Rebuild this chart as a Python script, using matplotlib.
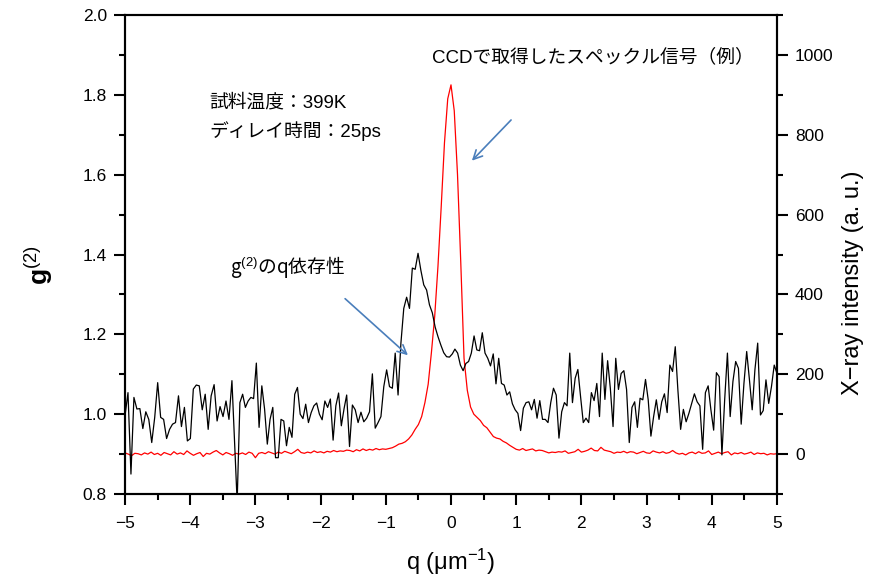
import numpy as np
import matplotlib
matplotlib.use("Agg")
import matplotlib.pyplot as plt
from matplotlib.ticker import MultipleLocator

plt.rcParams['font.family'] = ['Liberation Sans', 'Noto Sans CJK JP', 'DejaVu Sans']
plt.rcParams['mathtext.fontset'] = 'custom'
plt.rcParams['mathtext.rm'] = 'Liberation Sans'
plt.rcParams['mathtext.it'] = 'Liberation Sans'
plt.rcParams['mathtext.bf'] = 'Liberation Sans:bold'
plt.rcParams['axes.unicode_minus'] = True

# g2 (black), in six stretches of q
g2_q_ranges = [(-5.0, -3.36), (-3.28, -1.64), (-1.60, 0.02),
               (0.06, 1.74), (1.78, 3.44), (3.48, 5.0)]
g2_seg1 = [0.996, 1.054, 0.850, 1.042, 1.013, 1.014, 0.964, 1.006, 0.987, 0.929,
           0.992, 1.079, 0.992, 0.987, 0.939, 0.962, 0.975, 0.979, 1.046, 0.969,
           1.017, 0.933, 0.939, 1.063, 1.073, 1.071, 1.011, 1.050, 0.962, 1.046,
           1.074, 0.983, 1.019, 0.994, 1.033, 0.987, 1.084]
g2_seg2 = [0.78, 1.029, 1.050, 1.017, 1.033, 1.042, 1.039, 1.128, 0.967, 1.071,
           1.013, 0.925, 0.987, 1.017, 0.891, 0.891, 0.987, 0.983, 0.921, 0.967,
           0.942, 1.050, 1.067, 1.000, 0.989, 1.025, 0.979, 1.004, 1.021, 1.028,
           1.000, 0.986, 1.033, 1.017, 1.038, 0.935, 1.021, 1.053, 0.971, 1.014]
g2_seg3 = [1.048, 0.919, 1.023, 1.011, 0.979, 1.005, 0.981, 0.990, 1.006, 1.101,
           0.965, 0.979, 0.994, 1.069, 1.111, 1.069, 1.065, 1.153, 1.048, 1.178,
           1.265, 1.293, 1.265, 1.366, 1.363, 1.403, 1.360, 1.324, 1.311, 1.274,
           1.254, 1.218, 1.194, 1.173, 1.154, 1.144, 1.143, 1.151]
g2_seg4 = [1.163, 1.153, 1.123, 1.109, 1.127, 1.132, 1.153, 1.196, 1.161, 1.159,
           1.204, 1.153, 1.140, 1.121, 1.151, 1.076, 1.140, 1.077, 1.073, 1.048,
           1.056, 1.026, 1.011, 1.002, 0.959, 1.015, 1.029, 1.031, 1.011, 1.037,
           0.990, 1.034, 0.987, 0.987, 0.979, 1.029, 1.065, 1.048, 0.940, 1.006,
           1.029]
g2_seg5 = [1.021, 1.153, 1.029, 1.090, 1.112, 1.044, 0.979, 0.990, 0.979, 1.054,
           1.034, 1.077, 0.994, 1.153, 1.037, 1.134, 1.065, 0.969, 1.140, 1.062,
           1.102, 1.109, 1.062, 0.929, 1.017, 1.031, 0.967, 1.040, 1.036, 1.087,
           1.036, 0.945, 0.994, 1.036, 0.987, 1.031, 1.051, 1.004, 1.123, 1.107,
           1.169]
g2_seg6 = [1.061, 0.962, 1.012, 0.981, 1.002, 1.027, 1.051, 1.031, 1.021, 0.912,
           1.054, 1.071, 1.011, 0.960, 1.104, 1.094, 0.898, 1.036, 1.153, 0.994,
           1.082, 1.132, 1.115, 0.975, 1.077, 1.157, 1.086, 1.011, 1.112, 1.178,
           0.998, 1.009, 1.086, 1.027, 1.069, 1.123, 1.102]
g2_segs = [g2_seg1, g2_seg2, g2_seg3, g2_seg4, g2_seg5, g2_seg6]

# X-ray intensity (red)
red_left = [3, 0, -4, 2, 1, -2, 3, 0, 5, -1,
            2, -3, 4, 1, -2, 6, 0, 3, -1, 8,
            2, -3, 1, 4, -6, 2, 0, 5, 9, 3,
            -2, 4, 1, -3, 2, 0, 3, -1, 5, 2,
            -9, 2, 4, 1, 6, 3, 0, 5, 2, 7,
            4, 1, 6, 12, 4, 2, 5, 3, 8, 4,
            6, 3, 7, 5, 9, 6, 8, 7, 10, 9,
            6, 11, 8, 13, 9, 12, 10, 14, 11, 13,
            12]
red_peak_q = [-0.95, -0.90, -0.85, -0.80, -0.75, -0.70, -0.65, -0.60, -0.55, -0.50,
              -0.45, -0.40, -0.35, -0.30, -0.25, -0.20, -0.15, -0.10, -0.05, 0.00,
              0.05, 0.10, 0.15, 0.20, 0.25, 0.30, 0.35, 0.40, 0.45, 0.50,
              0.55, 0.60, 0.65, 0.70, 0.75, 0.80, 0.85, 0.90, 0.95]
red_peak = [14, 16, 20, 25, 27, 31, 38, 48, 62, 74,
            94, 129, 175, 255, 345, 470, 620, 780, 890, 925,
            860, 700, 480, 240, 160, 118, 100, 92, 84, 72,
            66, 55, 44, 40, 38, 32, 28, 22, 17]
red_right = [12, 10, 14, 9, 11, 13, 8, 10, 9, 6,
             3, 5, 4, 6, 5, 8, 2, 4, 6, 12,
             5, 7, 10, 15, 9, 8, 17, 10, 8, 6,
             2, 5, 4, 7, 3, 6, 5, 1, 4, 7,
             3, 2, 8, 5, 3, 6, 2, 4, 9, 3,
             0, 2, -2, 3, 5, 1, 6, 2, 3, 8,
             -1, 2, 5, 1, 4, 6, -2, 3, 1, 4,
             0, 2, 5, -1, 3, 1, 2, -2, 1, 0,
             1]

q_g2 = np.concatenate([np.linspace(a, b, len(s)) for (a, b), s in zip(g2_q_ranges, g2_segs)])
g2 = np.concatenate(g2_segs)
q_red = np.concatenate([np.linspace(-5, -1, len(red_left)), red_peak_q,
                        np.linspace(1, 5, len(red_right))])
inten = np.concatenate([red_left, red_peak, red_right])

fig = plt.figure(figsize=(8.73, 5.81), dpi=100)
ax = fig.add_axes([0.1432, 0.1497, 0.7468, 0.8245])
ax2 = ax.twinx()

ax2.plot(q_red, inten, color='#ff0000', lw=0.9)
ax.plot(q_g2, g2, color='black', lw=0.9)
ax.set_zorder(ax2.get_zorder() + 1)
ax.patch.set_visible(False)

ax.set_xlim(-5, 5)
ax.set_ylim(0.8, 2.0)
ax2.set_ylim(-100, 1100)

ax.xaxis.set_major_locator(MultipleLocator(1))
ax.xaxis.set_minor_locator(MultipleLocator(0.5))
ax.yaxis.set_major_locator(MultipleLocator(0.2))
ax.yaxis.set_minor_locator(MultipleLocator(0.1))
ax2.yaxis.set_minor_locator(MultipleLocator(100))
ax2.set_yticks([0, 200, 400, 600, 800, 1000])

for a in (ax, ax2):
    a.tick_params(which='major', direction='out', length=8, width=1.5, labelsize=12.5, pad=5)
    a.tick_params(which='minor', direction='out', length=4, width=1.5)
    for s in a.spines.values():
        s.set_linewidth(1.5)
ax.tick_params(axis='x', which='both', top=False, pad=8)
ax.yaxis.set_major_formatter(plt.FuncFormatter(lambda v, p: f'{v:.1f}'))

ax.set_xlabel('q (μm$^{-1}$)', fontsize=17)
ax.xaxis.set_label_coords(0.5, -0.11)
ax.set_ylabel(r'$\mathbf{g}^{(2)}$', fontsize=19)
ax.yaxis.set_label_coords(-0.108, 0.478)
ax2.set_ylabel('X\u2212ray intensity (a. u.)', fontsize=17)
ax2.yaxis.set_label_coords(1.1, 0.44)

ax.text(2.17, 1.893, 'CCDで取得したスペックル信号（例）', fontsize=13.5,
        ha='center', va='center')
ax.text(-3.70, 1.78, '試料温度：399K', fontsize=13.5, ha='left', va='center')
ax.text(-3.70, 1.71, 'ディレイ時間：25ps', fontsize=13.5, ha='left', va='center')
ax.text(-3.39, 1.369, r'g$^{(2)}$のq依存性', fontsize=13.5, ha='left', va='center',
        family='Noto Sans CJK JP')

arrow_kw = dict(arrowstyle='->', color='#4a7ebb', lw=1.2, mutation_scale=16)
ax.annotate('', xy=(0.291, 1.630), xytext=(0.951, 1.742), arrowprops=arrow_kw)
ax.annotate('', xy=(-0.629, 1.143), xytext=(-1.656, 1.294), arrowprops=arrow_kw)

fig.savefig('out.png', dpi=100)
